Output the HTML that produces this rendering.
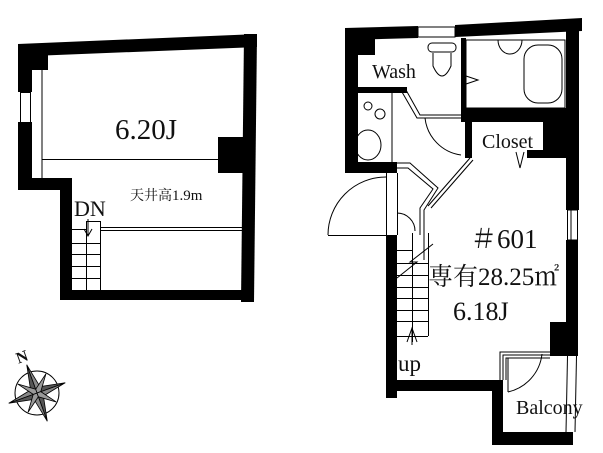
<!DOCTYPE html>
<html><head><meta charset="utf-8"><style>
html,body{margin:0;padding:0;background:#fff;}
svg{display:block}
text{font-family:"Liberation Serif","Noto Serif CJK SC",serif;fill:#111}
</style></head><body>
<svg width="603" height="453" viewBox="0 0 603 453" xmlns="http://www.w3.org/2000/svg">
<!-- LEFT PLAN -->
<g fill="#000">
<polygon points="18,44 257,34 257,47 32,56"/>
<rect x="18" y="44" width="14" height="48"/>
<rect x="18" y="122" width="14" height="68"/>
<rect x="18" y="44" width="30" height="26"/>
<rect x="18" y="178" width="54" height="12"/>
<rect x="60" y="178" width="12" height="122"/>
<rect x="60" y="290" width="190" height="10"/>
<polygon points="244,34 257,34 254,302 241,302"/>
<rect x="218" y="137" width="30" height="36"/>
</g>
<g fill="none" stroke="#000" stroke-width="1">
<rect x="20.5" y="92.5" width="10" height="30"/>
<line x1="42" y1="70" x2="42" y2="178"/>
<line x1="42" y1="159.5" x2="218" y2="159.5"/>
<line x1="100" y1="227.5" x2="242" y2="227.5"/>
<line x1="100" y1="230.5" x2="242" y2="230.5"/>
<line x1="86.5" y1="221" x2="86.5" y2="290"/>
<line x1="100.5" y1="221" x2="100.5" y2="290"/>
<line x1="86" y1="221.5" x2="100" y2="221.5"/>
<line x1="72" y1="243.5" x2="100" y2="243.5"/>
<line x1="72" y1="254.5" x2="100" y2="254.5"/>
<line x1="72" y1="266.5" x2="100" y2="266.5"/>
<line x1="72" y1="278.5" x2="100" y2="278.5"/>
<line x1="72" y1="229.5" x2="86" y2="229.5"/>
<polyline points="88,219 88,235"/>
<polyline points="84,229 88,236 92,229"/>
</g>
<text x="115" y="139" font-size="29">6.20J</text>
<text x="130" y="200" font-size="14" fill="#444">天井高<tspan fill="#111" font-size="15">1.9m</tspan></text>
<text x="74" y="216" font-size="22">DN</text>

<!-- RIGHT PLAN walls -->
<g fill="#000">
<polygon points="345,28 418,26 418,38 345,40"/>
<polygon points="455,25 582,18 582,31 455,37"/>
<rect x="345" y="28" width="13" height="145"/>
<rect x="345" y="38" width="30" height="17"/>
<rect x="357" y="87" width="50" height="6"/>
<rect x="345" y="162" width="52" height="11"/>
<rect x="461" y="38" width="5" height="72"/>
<rect x="461" y="108" width="109" height="14"/>
<rect x="465" y="108" width="7" height="50"/>
<rect x="543" y="108" width="30" height="50"/>
<rect x="527" y="150" width="20" height="8"/>
<rect x="566" y="20" width="13" height="190"/>
<rect x="566" y="240" width="12" height="85"/>
<rect x="550" y="322" width="28" height="34"/>
<rect x="386" y="235" width="11" height="163"/>
<rect x="386" y="380" width="117" height="11"/>
<rect x="492" y="380" width="11" height="65"/>
<rect x="492" y="432" width="81" height="13"/>
</g>
<g fill="none" stroke="#000" stroke-width="1">
<rect x="418" y="27" width="37" height="10"/>
<rect x="567.5" y="210" width="10" height="30"/>
<line x1="571" y1="210" x2="571" y2="240"/>
<line x1="567.5" y1="356" x2="566" y2="432"/>
<line x1="576.5" y1="356" x2="575" y2="432"/>
<rect x="466" y="40" width="99" height="68"/>
<rect x="524" y="45" width="38" height="58" rx="14"/>
<path d="M498,40 a12,14 0 0 0 24,0"/>
<rect x="428" y="43" width="28" height="9" rx="4"/>
<path d="M433,53 L433,66 Q442,86 451,66 L451,53"/>
<polyline points="466,76 478,80 466,84"/>
<line x1="357" y1="93" x2="357" y2="162"/>
<line x1="392" y1="93" x2="392" y2="162"/>
<ellipse cx="368" cy="145" rx="13" ry="15"/>
<circle cx="368" cy="106" r="4"/>
<circle cx="380" cy="114" r="5"/>
<polyline points="406,90 420,115 461,115"/>
<polyline points="402,92 417,118 461,118"/>
<path d="M425,118 A42,42 0 0 0 461,155"/>
<path d="M328,235 A58,58 0 0 1 386,177"/>
<line x1="328" y1="235.5" x2="386" y2="235.5"/>
<line x1="386.5" y1="173" x2="386.5" y2="235"/>
<line x1="397.5" y1="173" x2="397.5" y2="235"/>
<polyline points="397,163 410,163 438,188 424,210 424,260"/>
<polyline points="397,168 408,168 433,189 420,208 420,235"/>
<line x1="470" y1="158" x2="428" y2="206"/>
<line x1="473" y1="160" x2="431" y2="208"/>
<path d="M397,213 A18,18 0 0 1 415,231"/>
<line x1="412.5" y1="233" x2="412.5" y2="342"/>
<line x1="428.5" y1="233" x2="428.5" y2="336"/>
<line x1="397" y1="250.5" x2="412" y2="250.5"/>
<line x1="397" y1="263.5" x2="428" y2="263.5"/>
<line x1="397" y1="275.5" x2="428" y2="275.5"/>
<line x1="397" y1="287.5" x2="428" y2="287.5"/>
<line x1="397" y1="298.5" x2="428" y2="298.5"/>
<line x1="397" y1="310.5" x2="428" y2="310.5"/>
<line x1="397" y1="321.5" x2="428" y2="321.5"/>
<line x1="397" y1="336.5" x2="428" y2="336.5"/>
<polyline points="397,278 417,262 410,262 433,244"/>
<polyline points="407,342 412,328 417,342"/>
<line x1="412" y1="328" x2="412" y2="345"/>
<polyline points="516,152 520,168 524,152"/>
<polyline points="500,380 500,352 550,352"/>
<polyline points="503,380 503,355 550,355"/>
<polyline points="506,380 506,358 550,358"/>
<path d="M508,392 A44,44 0 0 0 542,354"/>
<line x1="508" y1="358" x2="508" y2="392"/>
</g>
<text x="372" y="78" font-size="20">Wash</text>
<text x="482" y="148" font-size="20">Closet</text>
<text x="470" y="248" font-size="27">＃601</text>
<text x="428" y="285" font-size="25">専有28.25㎡</text>
<text x="453" y="320" font-size="26">6.18J</text>
<text x="398" y="371" font-size="23">up</text>
<text x="516" y="414" font-size="20">Balcony</text>

<!-- compass -->
<g transform="translate(37,393)">
<circle r="22" fill="none" stroke="#000" stroke-width="1"/>
<g transform="rotate(-20)" stroke="#000" stroke-width="0.8">
<polygon points="0,-30 5,-5 0,0" fill="#888"/>
<polygon points="0,-30 -5,-5 0,0" fill="#555"/>
<polygon points="0,30 5,5 0,0" fill="#555"/>
<polygon points="0,30 -5,5 0,0" fill="#888"/>
<polygon points="30,0 5,5 0,0" fill="#888"/>
<polygon points="30,0 5,-5 0,0" fill="#555"/>
<polygon points="-30,0 -5,5 0,0" fill="#555"/>
<polygon points="-30,0 -5,-5 0,0" fill="#888"/>
<polygon points="15,-15 4,0 0,0 0,-4" fill="#999"/>
<polygon points="-15,15 -4,0 0,0 0,4" fill="#999"/>
<polygon points="15,15 4,0 0,0 0,4" fill="#999"/>
<polygon points="-15,-15 -4,0 0,0 0,-4" fill="#999"/>
</g>
</g>
<text x="16" y="362" font-size="16" font-weight="bold" font-family="Liberation Sans, sans-serif" transform="rotate(-20 22 356)">N</text>
</svg>
</body></html>
